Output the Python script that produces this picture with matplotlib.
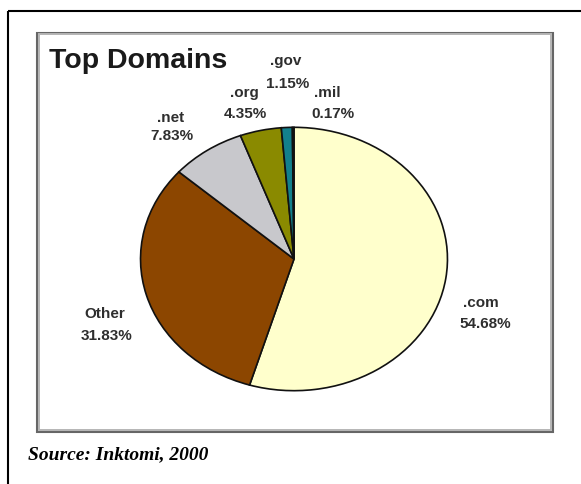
import matplotlib
matplotlib.use("Agg")
import matplotlib.pyplot as plt
from matplotlib.patches import Rectangle

# Share of web domains (percent)
domains = [".com", "Other", ".net", ".org", ".gov", ".mil"]
shares = [54.68, 31.83, 7.83, 4.35, 1.15, 0.17]
colors = ["#FFFFCC", "#8C4600", "#C8C8CC", "#8A8A00", "#12808C", "#1A2A50"]

title = "Top Domains"
source = "Source: Inktomi, 2000"

W, H = 581, 484
fig = plt.figure(figsize=(W / 100, H / 100), dpi=100)
fig.patch.set_facecolor("white")

# Overlay axes in pixel coordinates for frames and text
ov = fig.add_axes([0, 0, 1, 1])
ov.set_xlim(0, W)
ov.set_ylim(H, 0)
ov.axis("off")

# Outer black frame (runs off the right and bottom edges)
ov.add_patch(Rectangle((7.5, 10.5), 600, 500, fill=False,
                       edgecolor="black", linewidth=1.5, zorder=1))
# Inner chart box with a grey bevelled border
ov.add_patch(Rectangle((37, 32.5), 516, 399, fill=False,
                       edgecolor="#666666", linewidth=1.5, zorder=1))
ov.add_patch(Rectangle((38.9, 34.4), 512.2, 395.2, fill=False,
                       edgecolor="#b5b5b5", linewidth=1.4, zorder=1))

ov.text(49, 68, title, fontsize=20.5, fontweight="bold",
        family="Liberation Sans", color="#1a1a1a", va="baseline", ha="left")
ov.text(28, 459, source, fontsize=14, fontweight="bold", fontstyle="italic",
        family="Liberation Serif", color="black", va="baseline", ha="left")

# Pie drawn in its own axes so it can be stretched into an ellipse
cx, cy, rx, ry = 294, 259, 155, 133
pie_ax = fig.add_axes([(cx - rx) / W, (H - (cy + ry)) / H, 2 * rx / W, 2 * ry / H])
pie_ax.pie(shares, colors=colors, startangle=90, counterclock=False,
           radius=1.0,
           wedgeprops=dict(edgecolor="#111111", linewidth=1.2))
pie_ax.set_aspect("auto")
pie_ax.set_xlim(-1.01, 1.01)
pie_ax.set_ylim(-1.01, 1.01)
pie_ax.axis("off")

# Label anchors (name x, name baseline, value x, value baseline) in pixels
label_pos = {
    ".com": (481, 307, 485.5, 328),
    "Other": (105, 318, 107, 340),
    ".net": (171, 122, 172, 140),
    ".org": (244, 97, 245, 118),
    ".gov": (285.5, 65, 288, 88),
    ".mil": (327, 97, 333, 118),
}
for name, val in zip(domains, shares):
    nx, ny, vx, vy = label_pos[name]
    kw = dict(fontsize=11, fontweight="bold", family="Liberation Sans",
              color="#2e2e2e", ha="center", va="baseline")
    ov.text(nx, ny, name, **kw)
    ov.text(vx, vy, f"{val:.2f}%", **kw)

fig.savefig("out.png", dpi=100, facecolor="white")
